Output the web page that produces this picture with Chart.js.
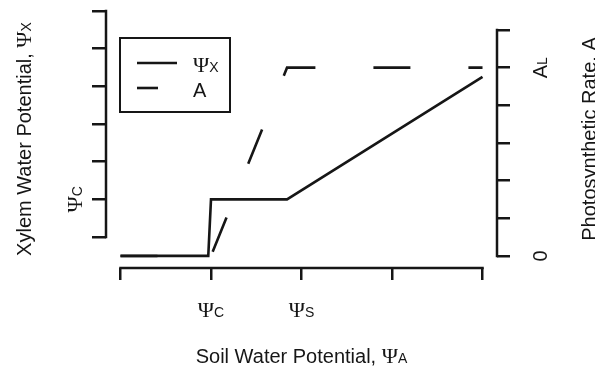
<!DOCTYPE html>
<html>
<head>
<meta charset="utf-8">
<script src="https://cdn.jsdelivr.net/npm/chart.js@4.4.1/dist/chart.umd.min.js"></script>
<style>
  html, body { margin: 0; padding: 0; background: #fff; }
  #wrap { width: 595px; height: 371px; }
</style>
</head>
<body>
<div id="wrap"><canvas id="plot"></canvas></div>
<script>
// soil water potential (x) against xylem potential and photosynthetic rate
const soilPotential = [0, 0.97, 1.0, 1.84, 4.0];
const xylemPotential = [-0.5, -0.5, 1.0, 1.0, 4.25];
const photoSoil = [0, 1.0, 1.84, 4.0];
const photoRate = [0, 0, 5, 5];

// "_" splits a label into its main part and the small suffix
const xTickValues = [0, 1, 2, 3, 4];
const xTickLabels = ['', 'Ψ_C', 'Ψ_S', '', ''];
const leftTickValues = [0, 1, 2, 3, 4, 5, 6];
const leftTickLabels = ['', 'Ψ_C', '', '', '', '', ''];
const rightTickValues = [0, 1, 2, 3, 4, 5, 6];
const rightTickLabels = ['0', '', '', '', '', 'A_L', ''];
const seriesNames = ['Ψ_X', 'A'];

const xTitle = 'Soil Water Potential, Ψ_A';
const leftTitle = 'Xylem Water Potential, Ψ_X';
const rightTitle = 'Photosynthetic Rate, A';

const INK = '#161616';
const SANS = '"Liberation Sans", Arial, sans-serif';
const SERIF = '"Liberation Serif", "Times New Roman", serif';

function richParts(str, size) {
  const [main, sub] = str.split('_');
  const parts = [];
  // Psi is set in a serif face, a little larger, the rest in sans
  for (const piece of main.split(/(Ψ)/)) {
    if (!piece) continue;
    parts.push(piece === 'Ψ'
      ? { text: piece, font: (size + 2) + 'px ' + SERIF }
      : { text: piece, font: size + 'px ' + SANS });
  }
  if (sub) parts.push({ text: sub, font: Math.round(size * 0.7) + 'px ' + SANS });
  return parts;
}

function drawRich(ctx, str, x, y, angle, align) {
  const parts = richParts(str, 20);
  let total = 0;
  parts.forEach(p => { ctx.font = p.font; p.w = ctx.measureText(p.text).width; total += p.w; });
  ctx.save();
  ctx.translate(x, y);
  ctx.rotate(angle || 0);
  ctx.textAlign = 'left';
  ctx.textBaseline = 'alphabetic';
  ctx.fillStyle = INK;
  let cx = align === 'left' ? 0 : -total / 2;
  parts.forEach(p => { ctx.font = p.font; ctx.fillText(p.text, cx, 0); cx += p.w; });
  ctx.restore();
}

// R-style axes: the axis line only runs from first to last tick
const baseAxes = {
  id: 'baseAxes',
  afterDraw(chart) {
    const { ctx, chartArea: area } = chart;
    const { x, yL, yR } = chart.scales;
    const up = -Math.PI / 2;

    ctx.save();
    ctx.strokeStyle = INK;
    ctx.lineWidth = 2.5;
    ctx.lineCap = 'square';
    const seg = (x1, y1, x2, y2) => { ctx.beginPath(); ctx.moveTo(x1, y1); ctx.lineTo(x2, y2); ctx.stroke(); };
    seg(x.getPixelForValue(xTickValues[0]), area.bottom, x.getPixelForValue(xTickValues.at(-1)), area.bottom);
    seg(area.left, yL.getPixelForValue(leftTickValues[0]), area.left, yL.getPixelForValue(leftTickValues.at(-1)));
    seg(area.right, yR.getPixelForValue(rightTickValues[0]), area.right, yR.getPixelForValue(rightTickValues.at(-1)));
    ctx.restore();

    xTickValues.forEach((v, i) => {
      if (xTickLabels[i]) drawRich(ctx, xTickLabels[i], x.getPixelForValue(v), area.bottom + 49, 0);
    });
    leftTickValues.forEach((v, i) => {
      if (leftTickLabels[i]) drawRich(ctx, leftTickLabels[i], area.left - 24, yL.getPixelForValue(v), up);
    });
    rightTickValues.forEach((v, i) => {
      if (rightTickLabels[i]) drawRich(ctx, rightTickLabels[i], area.right + 50, yR.getPixelForValue(v), up);
    });

    const midY = (area.top + area.bottom) / 2;
    drawRich(ctx, xTitle, (area.left + area.right) / 2, area.bottom + 95, 0);
    drawRich(ctx, leftTitle, area.left - 75, midY, up);
    drawRich(ctx, rightTitle, area.right + 99, midY, up);

    // legend box in the upper left of the plot
    ctx.save();
    ctx.strokeStyle = INK;
    ctx.lineWidth = 2;
    ctx.strokeRect(120, 38, 110, 74);
    chart.data.datasets.forEach((ds, i) => {
      const ly = 63 + i * 25;
      ctx.lineWidth = ds.borderWidth;
      ctx.setLineDash(ds.borderDash ? [21, 40] : []);
      ctx.beginPath();
      ctx.moveTo(137, ly);
      ctx.lineTo(177, ly);
      ctx.stroke();
      drawRich(ctx, ds.label, 193, ly + 9, 0, 'left');
    });
    ctx.restore();
  }
};

const tickGrid = { drawOnChartArea: false, tickLength: 13, color: INK, lineWidth: 2.5 };

new Chart(document.getElementById('plot'), {
  type: 'line',
  data: {
    datasets: [
      {
        label: seriesNames[0],
        data: soilPotential.map((s, i) => ({ x: s, y: xylemPotential[i] })),
        yAxisID: 'yL',
        borderColor: INK,
        borderWidth: 2.6,
        pointRadius: 0,
        tension: 0
      },
      {
        label: seriesNames[1],
        data: photoSoil.map((s, i) => ({ x: s, y: photoRate[i] })),
        yAxisID: 'yR',
        borderColor: INK,
        borderWidth: 2.6,
        borderDash: [37, 58],
        pointRadius: 0,
        tension: 0
      }
    ]
  },
  options: {
    responsive: true,
    maintainAspectRatio: false,
    animation: false,
    devicePixelRatio: 1,
    layout: { padding: { top: 10, left: 0, right: 0, bottom: 0 } },
    plugins: { legend: { display: false }, tooltip: { enabled: false } },
    scales: {
      x: {
        type: 'linear',
        position: 'bottom',
        min: -0.16,
        max: 4.16,
        afterBuildTicks: s => { s.ticks = xTickValues.map(v => ({ value: v })); },
        ticks: { display: false },
        border: { display: false },
        grid: { ...tickGrid, tickLength: 12 },
        afterFit: s => { s.height = 103; }
      },
      yL: {
        type: 'linear',
        position: 'left',
        min: -0.823,
        max: 6.0265,
        afterBuildTicks: s => { s.ticks = leftTickValues.map(v => ({ value: v })); },
        ticks: { display: false },
        border: { display: false },
        grid: { ...tickGrid, tickLength: 14 },
        afterFit: s => { s.width = 106; }
      },
      yR: {
        type: 'linear',
        position: 'right',
        min: -0.3186,
        max: 6.531,
        afterBuildTicks: s => { s.ticks = rightTickValues.map(v => ({ value: v })); },
        ticks: { display: false },
        border: { display: false },
        grid: tickGrid,
        afterFit: s => { s.width = 98; }
      }
    }
  },
  plugins: [baseAxes]
});
</script>
</body>
</html>
